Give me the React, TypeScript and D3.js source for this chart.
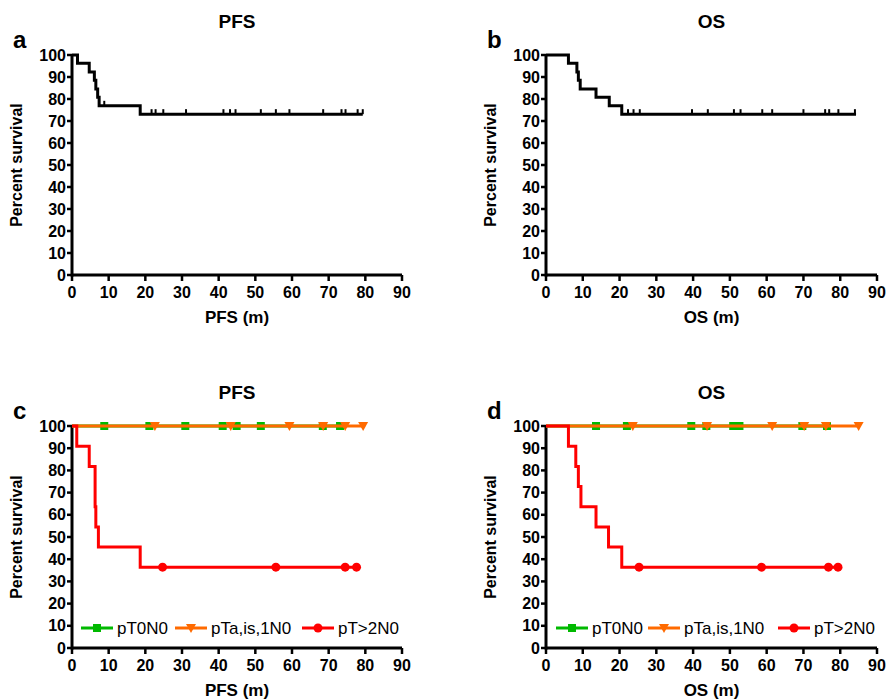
import React from "react";
import * as d3 from "d3";

// ---------- DATA ----------
const xTicks = [0, 10, 20, 30, 40, 50, 60, 70, 80, 90];
const yTicks = [0, 10, 20, 30, 40, 50, 60, 70, 80, 90, 100];

// Panel a: PFS, whole cohort
const pfsAllTime = [0, 1.5, 4.7, 6.1, 6.5, 7.0, 7.4, 18.6, 79.3];
const pfsAllSurv = [100, 96.2, 92.3, 88.5, 84.6, 80.8, 76.9, 73.1, 73.1];
const pfsAllCensor = [8.8, 21.7, 22.8, 24.9, 31.1, 41.3, 43.1, 44.6, 51.5, 55.6, 59.3, 68.5, 73.5, 74.6, 77.9, 79.3];

// Panel b: OS, whole cohort
const osAllTime = [0, 6.1, 8.4, 8.8, 9.3, 13.6, 17.2, 20.6, 84.3];
const osAllSurv = [100, 96.2, 92.3, 88.5, 84.6, 80.8, 76.9, 73.1, 73.1];
const osAllCensor = [22.3, 23.8, 25.5, 39.7, 44.0, 51.1, 52.9, 58.8, 61.5, 70.0, 75.9, 77.0, 79.5, 84.0];

// Panel c: PFS by stage
const pfsT0Censor = [8.8, 21.1, 30.9, 41.1, 44.9, 51.5, 68.4, 73.1];
const pfsTaCensor = [22.6, 43.3, 59.3, 68.5, 74.5, 79.4];
const pfsT2Time = [0, 1.3, 4.7, 6.3, 6.5, 7.2, 18.6, 77.6];
const pfsT2Surv = [100, 90.9, 81.8, 63.6, 54.5, 45.5, 36.4, 36.4];
const pfsT2Censor = [24.7, 55.6, 74.5, 77.6];

// Panel d: OS by stage
const osT0Censor = [13.6, 22.0, 39.5, 43.6, 50.9, 52.6, 69.7, 76.4];
const osTaCensor = [23.6, 43.8, 61.5, 70.2, 76.1, 85.0];
const osT2Time = [0, 6.1, 8.1, 8.8, 9.5, 13.6, 17.0, 20.6, 79.4];
const osT2Surv = [100, 90.9, 81.8, 72.7, 63.6, 54.5, 45.5, 36.4, 36.4];
const osT2Censor = [25.3, 58.6, 76.8, 79.4];

const legendLabels = ["pT0N0", "pTa,is,1N0", "pT>2N0"];

const GREEN = "#00b900";
const ORANGE = "#ff6a00";
const RED = "#ff0000";
const FONT = "Arial, 'Liberation Sans', Helvetica, sans-serif";

type Pt = [number, number];

function zip(t: number[], s: number[]): Pt[] {
  return t.map((v, i) => [v, s[i]] as Pt);
}

function survAt(t: number[], s: number[], x: number): number {
  let v = s[0];
  for (let i = 0; i < t.length; i++) if (t[i] <= x) v = s[i];
  return v;
}

interface Frame {
  x0: number;
  x1: number;
  y0: number;
  y1: number;
}

function Axes({ f, letter, title, xTitle }: { f: Frame; letter: string; title: string; xTitle: string }) {
  const x = d3.scaleLinear().domain([0, 90]).range([f.x0, f.x1]);
  const y = d3.scaleLinear().domain([0, 100]).range([f.y0, f.y1]);
  const midX = (f.x0 + f.x1) / 2;
  const midY = (f.y0 + f.y1) / 2;
  return (
    <g fontFamily={FONT} fontWeight="bold" fill="#000">
      <text x={f.x0 - 59} y={f.y1 - 7} fontSize={24}>{letter}</text>
      <text x={midX} y={f.y1 - 27} fontSize={19} textAnchor="middle">{title}</text>
      <line x1={x(0)} x2={x(90)} y1={y(0)} y2={y(0)} stroke="#000" strokeWidth={3} />
      <line x1={x(0)} x2={x(0)} y1={y(0) + 1.5} y2={y(100) - 1} stroke="#000" strokeWidth={3} />
      {yTicks.map((t) => (
        <g key={"y" + t}>
          <line x1={x(0) - 5} x2={x(0)} y1={y(t)} y2={y(t)} stroke="#000" strokeWidth={2.5} />
          <text x={x(0) - 6} y={y(t) + 5.5} fontSize={16} textAnchor="end">{t}</text>
        </g>
      ))}
      {xTicks.map((t) => (
        <g key={"x" + t}>
          <line x1={x(t)} x2={x(t)} y1={y(0)} y2={y(0) + 6} stroke="#000" strokeWidth={2.5} />
          <text x={x(t)} y={y(0) + 23} fontSize={16} textAnchor="middle">{t}</text>
        </g>
      ))}
      <text x={midX} y={y(0) + 48} fontSize={17} textAnchor="middle">{xTitle}</text>
      <text
        transform={`translate(${f.x0 - 50},${midY}) rotate(-90)`}
        fontSize={16}
        textAnchor="middle"
      >
        Percent survival
      </text>
    </g>
  );
}

function BlackCurve({ f, t, s, c }: { f: Frame; t: number[]; s: number[]; c: number[] }) {
  const x = d3.scaleLinear().domain([0, 90]).range([f.x0, f.x1]);
  const y = d3.scaleLinear().domain([0, 100]).range([f.y0, f.y1]);
  const line = d3.line<Pt>().x((d) => x(d[0])).y((d) => y(d[1])).curve(d3.curveStepAfter);
  return (
    <g>
      <path d={line(zip(t, s)) || ""} fill="none" stroke="#000" strokeWidth={3} />
      {c.map((ct, i) => (
        <line
          key={i}
          x1={x(ct)}
          x2={x(ct)}
          y1={y(survAt(t, s, ct))}
          y2={y(survAt(t, s, ct)) - 5}
          stroke="#000"
          strokeWidth={2}
        />
      ))}
    </g>
  );
}

function Square({ cx, cy }: { cx: number; cy: number }) {
  return <rect x={cx - 4} y={cy - 4} width={8} height={8} fill={GREEN} />;
}
function Tri({ cx, cy }: { cx: number; cy: number }) {
  return <path d={`M${cx - 5},${cy - 4} L${cx + 5},${cy - 4} L${cx},${cy + 5} Z`} fill={ORANGE} />;
}
function Dot({ cx, cy }: { cx: number; cy: number }) {
  return <circle cx={cx} cy={cy} r={4.5} fill={RED} />;
}

function GroupCurves({
  f,
  g0,
  ga,
  rt,
  rs,
  rc,
}: {
  f: Frame;
  g0: number[];
  ga: number[];
  rt: number[];
  rs: number[];
  rc: number[];
}) {
  const x = d3.scaleLinear().domain([0, 90]).range([f.x0, f.x1]);
  const y = d3.scaleLinear().domain([0, 100]).range([f.y0, f.y1]);
  const line = d3.line<Pt>().x((d) => x(d[0])).y((d) => y(d[1])).curve(d3.curveStepAfter);
  const gEnd = d3.max(g0) as number;
  const aEnd = d3.max(ga) as number;
  return (
    <g>
      <path d={line([[0, 100], [gEnd, 100]]) || ""} fill="none" stroke={GREEN} strokeWidth={3} />
      {g0.map((c, i) => (
        <Square key={"g" + i} cx={x(c)} cy={y(100)} />
      ))}
      <path d={line([[0, 100], [aEnd, 100]]) || ""} fill="none" stroke={ORANGE} strokeWidth={3} />
      {ga.map((c, i) => (
        <Tri key={"a" + i} cx={x(c)} cy={y(100)} />
      ))}
      <path d={line(zip(rt, rs)) || ""} fill="none" stroke={RED} strokeWidth={3} />
      {rc.map((c, i) => (
        <Dot key={"r" + i} cx={x(c)} cy={y(survAt(rt, rs, c))} />
      ))}
    </g>
  );
}

function Legend({ lx, ly, offsets }: { lx: number; ly: number; offsets: number[] }) {
  const colors = [GREEN, ORANGE, RED];
  return (
    <g fontFamily={FONT} fontSize={17}>
      {legendLabels.map((lab, i) => {
        const sx = lx + offsets[i];
        const mid = sx + 16;
        return (
          <g key={lab}>
            <line x1={sx} x2={sx + 32} y1={ly} y2={ly} stroke={colors[i]} strokeWidth={3} />
            {i === 0 && <Square cx={mid} cy={ly} />}
            {i === 1 && <Tri cx={mid} cy={ly} />}
            {i === 2 && <Dot cx={mid} cy={ly} />}
            <text x={sx + 36} y={ly + 6} fill="#000">{lab}</text>
          </g>
        );
      })}
    </g>
  );
}

export default function App() {
  const fa: Frame = { x0: 72, x1: 402, y0: 275, y1: 55 };
  const fb: Frame = { x0: 546, x1: 877, y0: 275, y1: 55 };
  const fc: Frame = { x0: 72, x1: 402, y0: 648, y1: 426 };
  const fd: Frame = { x0: 546, x1: 877, y0: 648, y1: 426 };
  return (
    <svg
      width={888}
      height={699}
      style={{ position: "absolute", left: 0, top: 0, background: "#fff" }}
    >
      <rect width={888} height={699} fill="#fff" />
      <Axes f={fa} letter="a" title="PFS" xTitle="PFS (m)" />
      <BlackCurve f={fa} t={pfsAllTime} s={pfsAllSurv} c={pfsAllCensor} />
      <Axes f={fb} letter="b" title="OS" xTitle="OS (m)" />
      <BlackCurve f={fb} t={osAllTime} s={osAllSurv} c={osAllCensor} />
      <Axes f={fc} letter="c" title="PFS" xTitle="PFS (m)" />
      <GroupCurves f={fc} g0={pfsT0Censor} ga={pfsTaCensor} rt={pfsT2Time} rs={pfsT2Surv} rc={pfsT2Censor} />
      <Legend lx={81} ly={628} offsets={[0, 94, 221]} />
      <Axes f={fd} letter="d" title="OS" xTitle="OS (m)" />
      <GroupCurves f={fd} g0={osT0Censor} ga={osTaCensor} rt={osT2Time} rs={osT2Surv} rc={osT2Censor} />
      <Legend lx={556} ly={628} offsets={[0, 92, 222]} />
    </svg>
  );
}
